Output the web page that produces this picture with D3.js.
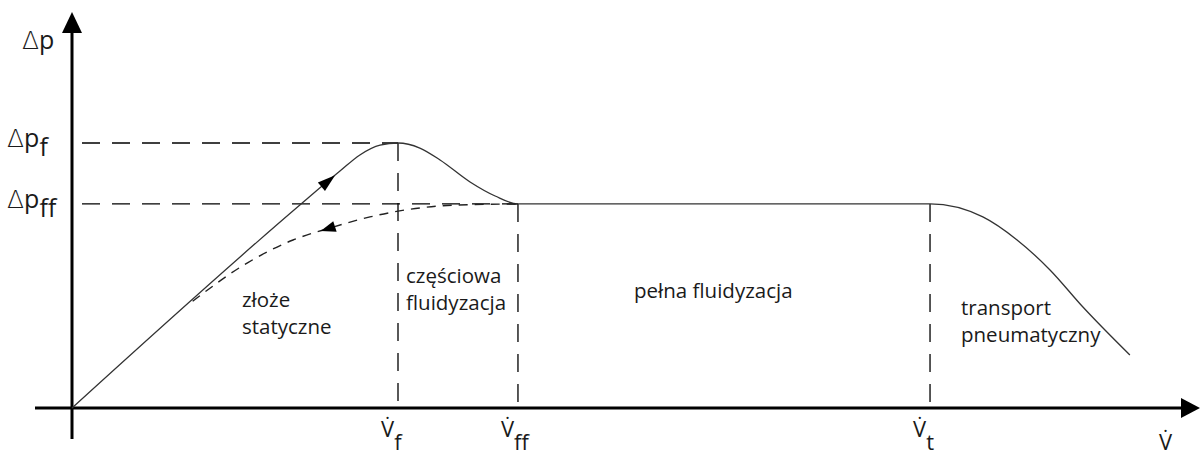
<!DOCTYPE html>
<html>
<head>
<meta charset="utf-8">
<script src="https://cdn.jsdelivr.net/npm/d3@7"></script>
<style>
  html, body { margin: 0; padding: 0; background: #fff; }
  svg { display: block; }
  text { font-family: "Open Sans", "DejaVu Sans", sans-serif; fill: #1a1a1a; }
  .delta { font-family: "DejaVu Sans", sans-serif; font-weight: 300; }
</style>
</head>
<body>
<svg id="chart" width="1204" height="456"></svg>
<script>
// Fluidization curve: flow rate (relative to V_f) vs. bed pressure drop (relative to Δp_f)
const curveFlow = [0, 0.699, 0.822, 0.883, 0.945, 1.0, 1.067, 1.129, 1.221, 1.298, 1.368, 2.632, 2.794, 2.899, 3.0, 3.101, 3.245];
const curveDp   = [0, 0.766, 0.894, 0.955, 0.992, 1.0, 0.981, 0.936, 0.853, 0.800, 0.770, 0.770, 0.721, 0.634, 0.521, 0.381, 0.200];

// Return branch (decreasing flow), drawn dashed
const returnFlow = [0.37, 0.537, 0.678, 0.791, 0.914, 1.021, 1.181, 1.368];
const returnDp   = [0.403, 0.547, 0.634, 0.679, 0.721, 0.747, 0.766, 0.770];

// Characteristic flow rates and their subscripts
const flowMarks  = [1.0, 1.368, 2.632];
const flowSubs   = ["f", "ff", "t"];

// Characteristic pressure drops and their subscripts
const dpLevels   = [1.0, 0.770];
const dpSubs     = ["f", "ff"];

// Regime names
const regimeLines = [
  ["złoże", "statyczne"],
  ["częściowa", "fluidyzacja"],
  ["pełna fluidyzacja"],
  ["transport", "pneumatyczny"]
];

const svg = d3.select("#chart");
const x = d3.scaleLinear().domain([0, 1]).range([72, 398]);
const y = d3.scaleLinear().domain([0, 1]).range([408, 143]);

const xEnd = 1200, yTop = 12;

// Axes with arrowheads
const axisG = svg.append("g");
axisG.append("line")
  .attr("x1", 35).attr("x2", xEnd - 16)
  .attr("y1", y(0)).attr("y2", y(0))
  .attr("stroke", "#000").attr("stroke-width", 3);
axisG.append("line")
  .attr("x1", x(0)).attr("x2", x(0))
  .attr("y1", 439).attr("y2", yTop + 18)
  .attr("stroke", "#000").attr("stroke-width", 3);
axisG.append("path")
  .attr("d", `M${xEnd},${y(0)} L${xEnd - 19},${y(0) - 10} L${xEnd - 19},${y(0) + 10} Z`)
  .attr("fill", "#000");
axisG.append("path")
  .attr("d", `M${x(0)},${yTop} L${x(0) - 10},${yTop + 21} L${x(0) + 10},${yTop + 21} Z`)
  .attr("fill", "#000");

// Dashed guide lines
const guide = svg.append("g")
  .attr("stroke", "#000").attr("stroke-width", 1.3)
  .attr("stroke-dasharray", "18,12").attr("fill", "none");
dpLevels.forEach((d, i) => {
  guide.append("line")
    .attr("x1", 82).attr("x2", x(flowMarks[i]))
    .attr("y1", y(d)).attr("y2", y(d));
});
flowMarks.forEach((f, i) => {
  const top = i === 0 ? dpLevels[0] : dpLevels[1];
  guide.append("line")
    .attr("x1", x(f)).attr("x2", x(f))
    .attr("y1", y(top)).attr("y2", y(0));
});

// Main curve
const line = d3.line().x(d => x(d[0])).y(d => y(d[1])).curve(d3.curveMonotoneX);
const mainPts = curveFlow.map((f, i) => [f, curveDp[i]]);
svg.append("path")
  .attr("d", line(mainPts))
  .attr("fill", "none").attr("stroke", "#333").attr("stroke-width", 1.3);

// Return branch
const retPts = returnFlow.map((f, i) => [f, returnDp[i]]);
svg.append("path")
  .attr("d", line(retPts))
  .attr("fill", "none").attr("stroke", "#222").attr("stroke-width", 1.4)
  .attr("stroke-dasharray", "9,7");

// Direction arrows along the curves
function arrowAt(p0, p1, t, len, wid) {
  const ax = x(p0[0]) + (x(p1[0]) - x(p0[0])) * t;
  const ay = y(p0[1]) + (y(p1[1]) - y(p0[1])) * t;
  const ang = Math.atan2(y(p1[1]) - y(p0[1]), x(p1[0]) - x(p0[0])) * 180 / Math.PI;
  svg.append("path")
    .attr("d", `M0,0 L${-len},${-wid / 2} L${-len},${wid / 2} Z`)
    .attr("transform", `translate(${ax},${ay}) rotate(${ang})`)
    .attr("fill", "#000");
}
arrowAt(mainPts[1], mainPts[2], 0.88, 18, 11);
arrowAt(retPts[3], retPts[2], 0.25, 15, 11);

// Pressure-drop labels
const lfs = 25;
const yLab = svg.append("g").attr("font-size", lfs);
function dpLabel(px, py, sub) {
  const t = yLab.append("text").attr("x", px).attr("y", py);
  t.append("tspan").attr("class", "delta").text("Δ");
  t.append("tspan").text("p");
  if (sub) t.append("tspan").attr("dy", 9).text(sub);
}
dpLabel(22, 49, null);
dpLevels.forEach((d, i) => dpLabel(7, y(d) + 4, dpSubs[i]));

// Flow-rate labels
const xLab = svg.append("g").attr("font-size", 22);
flowMarks.forEach((f, i) => {
  const t = xLab.append("text").attr("x", x(f) - 17).attr("y", 437);
  t.append("tspan").text("V̇");
  t.append("tspan").attr("dy", 13).text(flowSubs[i]);
});
xLab.append("text").attr("x", 1159).attr("y", 450).text("V̇");

// Regime names
const regimeAnchor = [[242, 307], [406, 283], [634, 298], [961, 315]];
const regG = svg.append("g").attr("font-size", 20.5);
regimeLines.forEach((lines, i) => {
  const t = regG.append("text").attr("x", regimeAnchor[i][0]).attr("y", regimeAnchor[i][1]);
  lines.forEach((s, j) => {
    t.append("tspan").attr("x", regimeAnchor[i][0]).attr("dy", j === 0 ? 0 : 27).text(s);
  });
});
</script>
</body>
</html>
